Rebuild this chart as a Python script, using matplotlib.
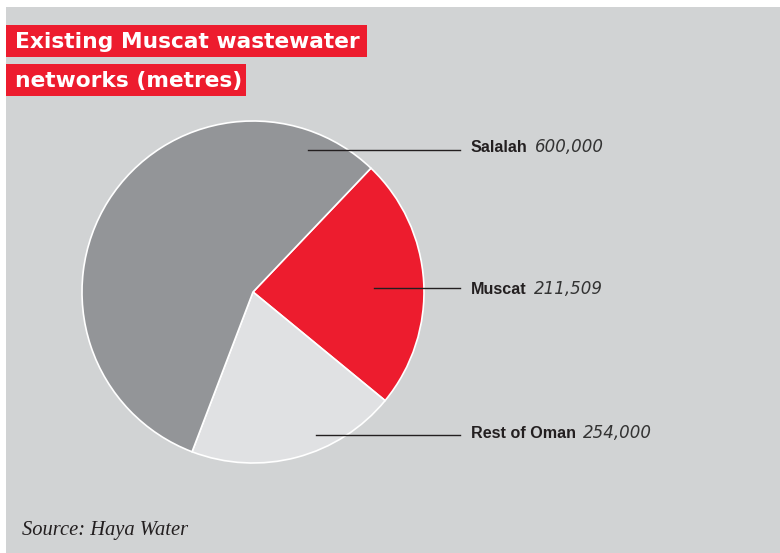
import matplotlib
matplotlib.use("Agg")
import matplotlib.pyplot as plt
from matplotlib.patches import Rectangle

W, H = 780, 553

# ---- data ----
categories = ["Salalah", "Muscat", "Rest of Oman"]
label_values = ["600,000", "211,509", "254,000"]
# slice sizes as drawn in the reference (drawn clockwise from the top-right):
# red wedge, light-grey wedge, dark-grey wedge
slice_names = ["Muscat", "Rest of Oman", "Salalah"]
slice_values = [254000, 211509, 600000]
slice_colors = ["#ED1C2E", "#E0E1E3", "#939598"]

title_lines = ["Existing Muscat wastewater", "networks (metres)"]
source = "Source: Haya Water"

BG = "#D1D3D4"
RED = "#ED1C2E"

fig = plt.figure(figsize=(W / 100, H / 100), dpi=100)
fig.patch.set_facecolor("white")


def fx(x):
    return x / W


def fy(y):
    return 1 - y / H


# background panel
fig.patches.append(Rectangle((fx(6), fy(553)), fx(780) - fx(6), fy(7) - fy(553),
                             transform=fig.transFigure, facecolor=BG,
                             edgecolor="none", zorder=-10))

# title boxes
boxes = [(6, 25, 367, 57), (6, 64, 246, 96)]
for (x0, y0, x1, y1), line in zip(boxes, title_lines):
    fig.patches.append(Rectangle((fx(x0), fy(y1)), fx(x1) - fx(x0), fy(y0) - fy(y1),
                                 transform=fig.transFigure, facecolor=RED,
                                 edgecolor="none", zorder=-5))
    fig.text(fx(15), fy(y1 - 9), line, color="white", fontsize=15.7,
             fontweight="bold", family="DejaVu Sans", va="baseline", ha="left",
             zorder=2)

# pie
cx, cy, r = 253, 292, 171
ax = fig.add_axes([fx(cx - r - 2), fy(cy + r + 2), (2 * r + 4) / W, (2 * r + 4) / H])
ax.set_zorder(3)
ax.set_facecolor("none")
ax.pie(slice_values, colors=slice_colors, startangle=46.4, counterclock=False,
       radius=1, wedgeprops=dict(edgecolor="white", linewidth=1.2))
ax.set_xlim(-(r + 2) / r, (r + 2) / r)
ax.set_ylim(-(r + 2) / r, (r + 2) / r)
ax.set_aspect("equal")
ax.axis("off")

# labels with leader lines: (line start x, line y, text baseline y)
leaders = {"Salalah": (308, 150, 152), "Muscat": (374, 288, 294),
           "Rest of Oman": (316, 435, 438)}
for name, val in zip(categories, label_values):
    x0, y, yb = leaders[name]
    fig.add_artist(plt.Line2D([fx(x0), fx(460)], [fy(y), fy(y)],
                              transform=fig.transFigure, color="#231F20",
                              linewidth=1.0, zorder=4))
    t = fig.text(fx(471), fy(yb), name, color="#231F20", fontsize=11.6,
                 fontweight="bold", family="Liberation Sans", va="baseline",
                 ha="left")
    fig.canvas.draw()
    bb = t.get_window_extent()
    fig.text((bb.x1 + 7) / W, fy(yb), val, color="#333333", fontsize=12,
             fontstyle="italic", family="DejaVu Sans", va="baseline", ha="left")

fig.text(fx(22), fy(535), source, fontsize=14.8, fontstyle="italic",
         family="Liberation Serif", color="#231F20", va="baseline", ha="left")

fig.savefig("out.png", dpi=100, facecolor=fig.get_facecolor())
